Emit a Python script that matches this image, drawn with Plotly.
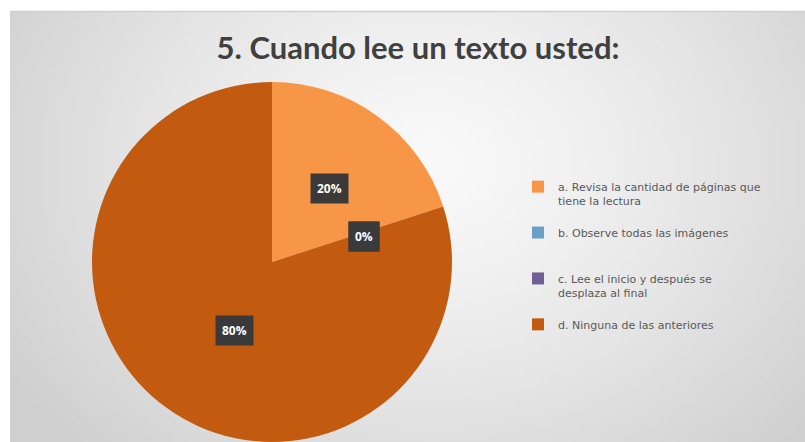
import math, zlib, struct, base64
import plotly.graph_objects as go

# ---- data ----
title_text = "5. Cuando lee un texto usted:"
categories = [
    "a. Revisa la cantidad de páginas que<br>tiene la lectura<br>\u00a0",
    "b. Observe todas las imágenes<br>\u00a0<br>\u00a0",
    "c. Lee el inicio y después se<br>desplaza al final<br>\u00a0",
    "d. Ninguna de las anteriores<br>\u00a0<br>\u00a0",
]
values = [20, 0, 0, 80]
colors = ["#F79646", "#6A9FC6", "#6F5F96", "#C25A10"]

W, H = 805, 442

# ---- background gradient image (styling only) ----
def make_png(w, h, cx, cy):
    rows = []
    maxd = math.hypot(max(cx, w - cx), max(cy, h - cy))
    for y in range(h):
        row = bytearray([0])
        for x in range(w):
            d = math.hypot((x - cx) * 1.0, (y - cy) * 1.25) / maxd
            v = int(round(249 - 42 * min(1.0, d) ** 1.3))
            row += bytes([v, v, v])
        rows.append(bytes(row))
    raw = b"".join(rows)
    def chunk(t, data):
        c = struct.pack(">I", len(data)) + t + data
        return c + struct.pack(">I", zlib.crc32(t + data) & 0xffffffff)
    png = b"\x89PNG\r\n\x1a\n" + chunk(b"IHDR", struct.pack(">IIBBBBB", w, h, 8, 2, 0, 0, 0)) \
        + chunk(b"IDAT", zlib.compress(raw, 9)) + chunk(b"IEND", b"")
    return "data:image/png;base64," + base64.b64encode(png).decode()

bg = make_png(160, 86, 84, 30)

# pie geometry
cx, cy, R = 272, 262, 180
dom_x = [(cx - R) / W, (cx + R) / W]
dom_y = [0, (H - (cy - R)) / H]

fig = go.Figure()
fig.add_trace(go.Pie(
    labels=categories, values=values, sort=False, direction="clockwise", rotation=0,
    marker=dict(colors=colors, line=dict(width=0)),
    textinfo="none", hoverinfo="label+percent",
    domain=dict(x=dom_x, y=dom_y), showlegend=True,
))

# data labels computed from values
total = sum(values)
cum = 0
for v in values:
    mid = (cum + v / 2) / total * 2 * math.pi
    cum += v
    px = cx + 0.54 * R * math.sin(mid)
    py = cy - 0.54 * R * math.cos(mid) + 5
    fig.add_annotation(
        x=px / W, y=1 - py / H, xref="paper", yref="paper",
        text=f"<b>{round(v / total * 100)}%</b>", showarrow=False,
        font=dict(family="Open Sans", size=12, color="white"),
        bgcolor="#3A3A3A", borderpad=6,
    )

fig.add_layout_image(dict(
    source=bg, xref="paper", yref="paper", x=10 / W, y=1 - 11 / H,
    sizex=(W - 10) / W, sizey=(H - 11) / H, sizing="stretch",
    xanchor="left", yanchor="top", layer="below",
))
fig.add_shape(type="line", xref="paper", yref="paper",
              x0=10 / W, x1=1, y0=1 - 11.5 / H, y1=1 - 11.5 / H,
              line=dict(color="#CFCFCF", width=1.5), layer="below")

fig.update_layout(
    width=W, height=H,
    margin=dict(l=0, r=0, t=0, b=0),
    paper_bgcolor="white", plot_bgcolor="white",
    title=dict(text=f"<b>{title_text}</b>", x=418 / W, xanchor="center",
               y=1 - 48 / H, yanchor="middle",
               font=dict(family="Lato", size=31, color="#404040")),
    legend=dict(
        x=518 / W, xanchor="left", y=1 - 173 / H, yanchor="top",
        valign="top", bgcolor="rgba(0,0,0,0)",
        font=dict(family="DejaVu Sans", size=11, color="#595959"),
        tracegroupgap=0,
    ),
)

fig.write_html("out.html")
